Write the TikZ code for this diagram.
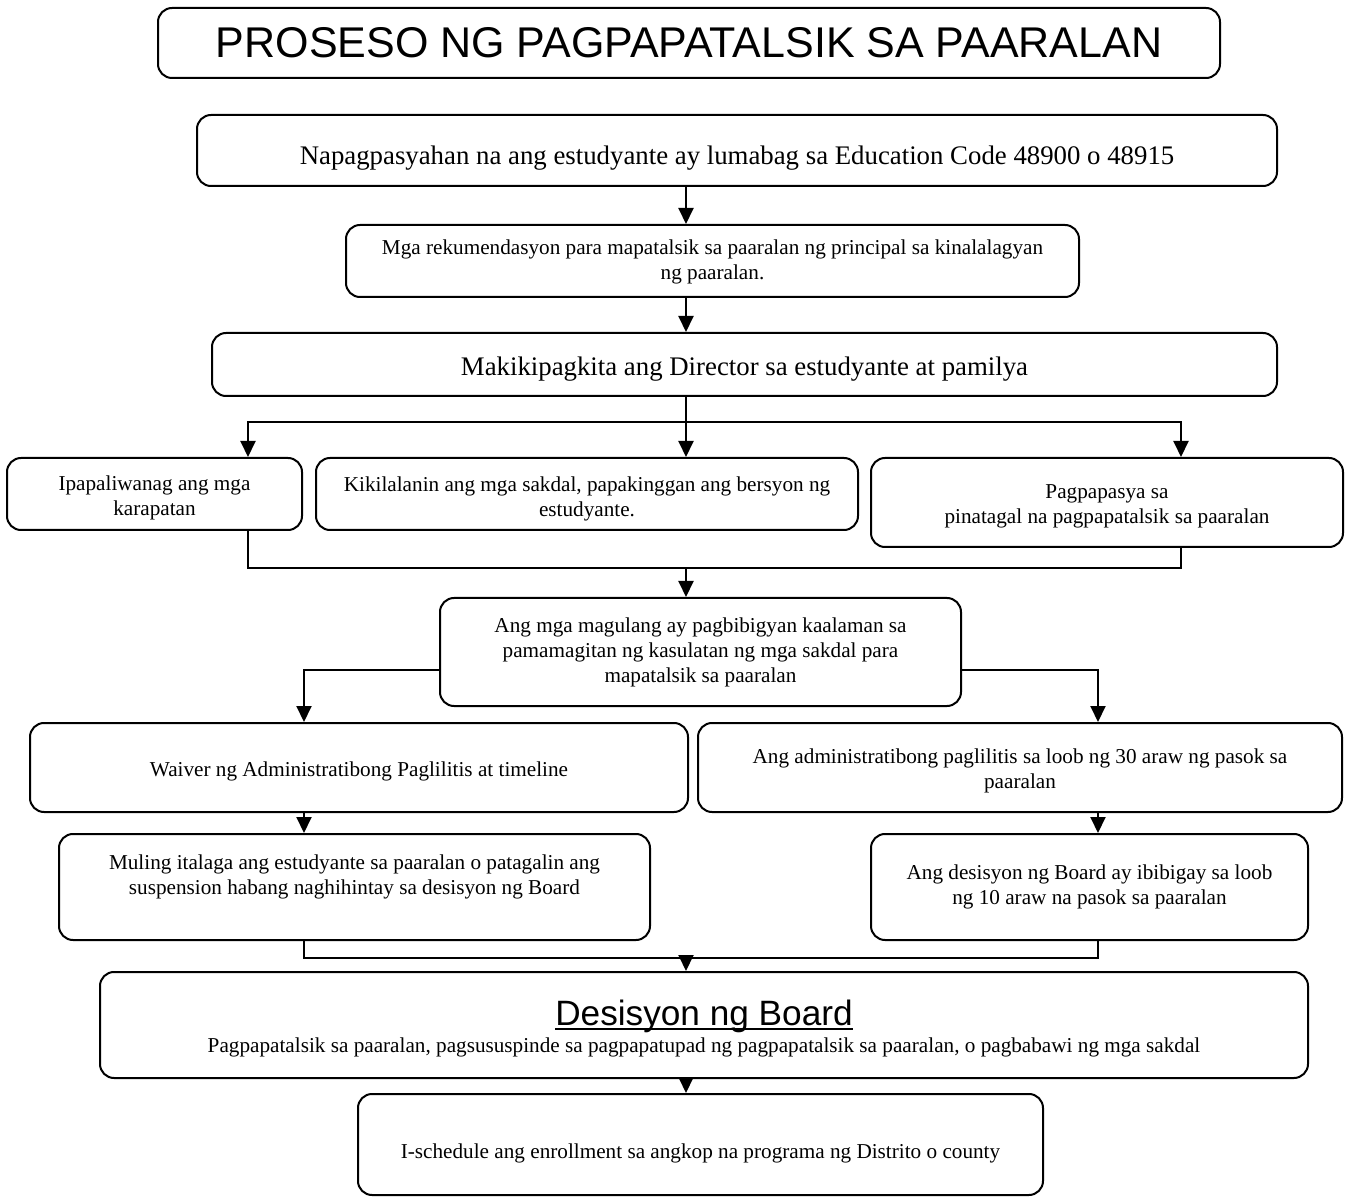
\documentclass[tikz,border=0pt]{standalone}
\usepackage{fontspec}
\setmainfont{Liberation Serif}
\newfontfamily\headfont{Liberation Sans}
\usetikzlibrary{arrows.meta}
\newcommand\ulbar[1]{\setbox0\hbox{#1}\rlap{\rule[-2.5pt]{\wd0}{1pt}}\box0}

\begin{document}
\begin{tikzpicture}[x=0.5pt, y=-0.5pt, line width=1pt,
    every node/.style={font=\fontsize{10.6}{12.5}\selectfont},
    box/.style={draw, rounded corners=7pt, align=center, inner sep=2pt},
    arr/.style={-{Triangle[width=7.5pt,length=8pt]}}]
    \useasboundingbox (0,0) rectangle (1346,1198);

    % Title
    \node[box, minimum width=531pt, minimum height=35pt, font=\headfont\fontsize{21.5}{25}\selectfont] (title) at (689,43) {PROSESO NG PAGPAPATALSIK SA PAARALAN};

    % Violation
    \node[box, minimum width=540pt, minimum height=35.5pt, text height=17.2pt, font=\fontsize{13.4}{16}\selectfont] (decided) at (737,150.5) {Napagpasyahan na ang estudyante ay lumabag sa Education Code 48900 o 48915};

    % Recommendation
    \node[box, minimum width=366.5pt, minimum height=36pt, text height=20.8pt] (recommend) at (712.5,261) {Mga rekumendasyon para mapatalsik sa paaralan ng principal sa kinalalagyan\\ng paaralan.};

    % Meeting
    \node[box, minimum width=532.5pt, minimum height=31.5pt, text height=14.2pt, font=\fontsize{13.4}{16}\selectfont] (meeting) at (744.5,364.5) {Makikipagkita ang Director sa estudyante at pamilya};

    % Meeting steps
    \node[box, minimum width=147.5pt, minimum height=36pt, text height=23.3pt] (rights) at (154.5,494) {Ipapaliwanag ang mga\\karapatan};
    \node[box, minimum width=271pt, minimum height=36pt, text height=24.8pt] (charges) at (587,494) {Kikilalanin ang mga sakdal, papakinggan ang bersyon ng\\estudyante.};
    \node[box, minimum width=236pt, minimum height=44.5pt, text height=23.3pt] (decision) at (1107,502.5) {Pagpapasya sa\\pinatagal na pagpapatalsik sa paaralan};

    % Notice
    \node[box, minimum width=260.5pt, minimum height=54pt] (notice) at (700.5,652) {Ang mga magulang ay pagbibigyan kaalaman sa\\pamamagitan ng kasulatan ng mga sakdal para\\mapatalsik sa paaralan};

    % Waiver / Hearing
    \node[box, minimum width=329pt, minimum height=44.5pt, text height=11.2pt] (waiver) at (359,767.5) {Waiver ng Administratibong Paglilitis at timeline};
    \node[box, minimum width=322pt, minimum height=44.5pt, text height=23.3pt] (hearing) at (1020,767.5) {Ang administratibong paglilitis sa loob ng 30 araw ng pasok sa\\paaralan};

    % Reassign / Board days
    \node[box, minimum width=295.5pt, minimum height=53pt] (reassign) at (354.5,887) {Muling italaga ang estudyante sa paaralan o patagalin ang\\suspension habang naghihintay sa desisyon ng Board\\\mbox{}};
    \node[box, minimum width=218.5pt, minimum height=53pt] (boarddays) at (1089.5,887) {Ang desisyon ng Board ay ibibigay sa loob\\ng 10 araw na pasok sa paaralan};

    % Board
    \node[box, minimum width=604pt, minimum height=53pt, text height=29.3pt] (board) at (704,1025) {{\headfont\fontsize{17.6}{21}\selectfont\ulbar{Desisyon ng Board}}\\[1pt]Pagpapatalsik sa paaralan, pagsususpinde sa pagpapatupad ng pagpapatalsik sa paaralan, o pagbabawi ng mga sakdal};

    % Enrollment
    \node[box, minimum width=342.5pt, minimum height=50.5pt, text height=16.5pt] (enroll) at (700.5,1144.5) {I-schedule ang enrollment sa angkop na programa ng Distrito o county};

    % Connector points
    \coordinate (trunk) at (686,0);
    \coordinate (leftx) at (248,0);
    \coordinate (rightx) at (1181,0);
    \coordinate (split) at (686,422);
    \coordinate (merge) at (686,568);
    \coordinate (lowrow) at (0,670);
    \coordinate (wleft) at (304,0);
    \coordinate (wright) at (1098,0);
    \coordinate (merge2) at (686,958);

    % Arrows
    \draw[arr] (decided.south -| trunk) -- (recommend.north -| trunk);
    \draw[arr] (recommend.south -| trunk) -- (meeting.north -| trunk);
    \draw (meeting.south -| trunk) -- (split);
    \draw[arr] (split) -- (charges.north -| trunk);
    \draw[arr] (split) -| (rights.north -| leftx);
    \draw[arr] (split) -| (decision.north -| rightx);
    \draw (rights.south -| leftx) |- (merge) -| (decision.south -| rightx);
    \draw[arr] (merge) -- (notice.north -| trunk);
    \draw[arr] (notice.west |- lowrow) -| (waiver.north -| wleft);
    \draw[arr] (notice.east |- lowrow) -| (hearing.north -| wright);
    \draw[arr] (waiver.south -| wleft) -- (reassign.north -| wleft);
    \draw[arr] (hearing.south -| wright) -- (boarddays.north -| wright);
    \draw (reassign.south -| wleft) |- (merge2) -| (boarddays.south -| wright);
    \draw[arr] (merge2) -- (board.north -| trunk);
    \draw[arr] (board.south -| trunk) -- (enroll.north -| trunk);
\end{tikzpicture}
\end{document}
